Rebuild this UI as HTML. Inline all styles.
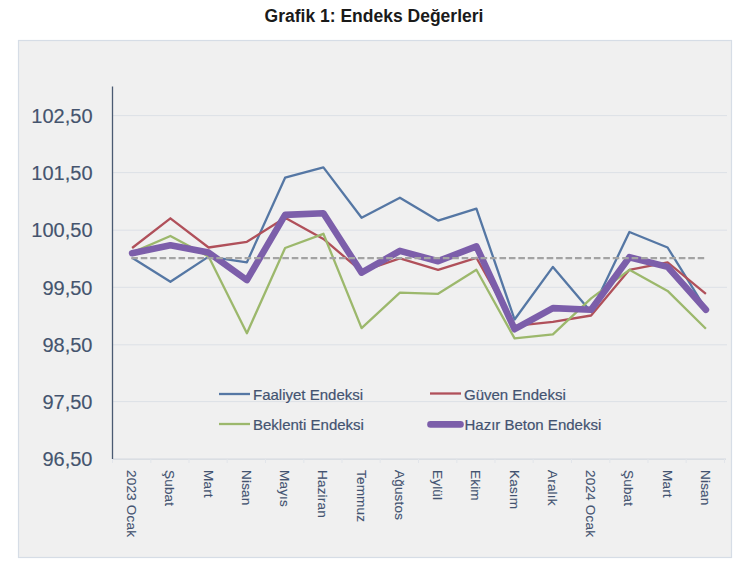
<!DOCTYPE html>
<html><head><meta charset="utf-8"><style>
html,body{margin:0;padding:0;background:#fff;width:750px;height:575px;overflow:hidden;}
svg{display:block;}
.t{font-family:"Liberation Sans",sans-serif;font-weight:bold;font-size:17.5px;fill:#1a1a1a;}
.yl{font-family:"Liberation Sans",sans-serif;font-size:20px;fill:#44546e;stroke:#44546e;stroke-width:0.15px;}
.xl{font-family:"Liberation Sans",sans-serif;font-size:13.5px;letter-spacing:0.2px;fill:#435370;stroke:#435370;stroke-width:0.12px;}
.lg{font-family:"Liberation Sans",sans-serif;font-size:15px;fill:#435370;stroke:#435370;stroke-width:0.2px;}
</style></head><body>
<svg width="750" height="575" viewBox="0 0 750 575">
<rect x="0" y="0" width="750" height="575" fill="#ffffff"/>
<text x="374" y="22" text-anchor="middle" class="t">Grafik 1: Endeks Değerleri</text>
<rect x="18.5" y="40.5" width="713" height="517" fill="#f0f0f0" stroke="#d6dde6" stroke-width="1.2"/>
<line x1="112.5" y1="401.6" x2="727" y2="401.6" stroke="#dce0e6" stroke-width="1"/>
<line x1="112.5" y1="344.8" x2="727" y2="344.8" stroke="#dce0e6" stroke-width="1"/>
<line x1="112.5" y1="287.3" x2="727" y2="287.3" stroke="#dce0e6" stroke-width="1"/>
<line x1="112.5" y1="230.2" x2="727" y2="230.2" stroke="#dce0e6" stroke-width="1"/>
<line x1="112.5" y1="172.6" x2="727" y2="172.6" stroke="#dce0e6" stroke-width="1"/>
<line x1="112.5" y1="115.6" x2="727" y2="115.6" stroke="#dce0e6" stroke-width="1"/>
<text x="92.5" y="466.0" text-anchor="end" class="yl">96,50</text>
<text x="92.5" y="408.8" text-anchor="end" class="yl">97,50</text>
<text x="92.5" y="351.7" text-anchor="end" class="yl">98,50</text>
<text x="92.5" y="294.5" text-anchor="end" class="yl">99,50</text>
<text x="92.5" y="237.3" text-anchor="end" class="yl">100,50</text>
<text x="92.5" y="180.1" text-anchor="end" class="yl">101,50</text>
<text x="92.5" y="123.0" text-anchor="end" class="yl">102,50</text>
<line x1="112.5" y1="459.2" x2="726" y2="459.2" stroke="#d3d8df" stroke-width="1.2"/>
<line x1="112.5" y1="459" x2="112.5" y2="463" stroke="#e2e5ea" stroke-width="1"/>
<line x1="150.8" y1="459" x2="150.8" y2="463" stroke="#e2e5ea" stroke-width="1"/>
<line x1="189.0" y1="459" x2="189.0" y2="463" stroke="#e2e5ea" stroke-width="1"/>
<line x1="227.2" y1="459" x2="227.2" y2="463" stroke="#e2e5ea" stroke-width="1"/>
<line x1="265.5" y1="459" x2="265.5" y2="463" stroke="#e2e5ea" stroke-width="1"/>
<line x1="303.8" y1="459" x2="303.8" y2="463" stroke="#e2e5ea" stroke-width="1"/>
<line x1="342.0" y1="459" x2="342.0" y2="463" stroke="#e2e5ea" stroke-width="1"/>
<line x1="380.2" y1="459" x2="380.2" y2="463" stroke="#e2e5ea" stroke-width="1"/>
<line x1="418.5" y1="459" x2="418.5" y2="463" stroke="#e2e5ea" stroke-width="1"/>
<line x1="456.8" y1="459" x2="456.8" y2="463" stroke="#e2e5ea" stroke-width="1"/>
<line x1="495.0" y1="459" x2="495.0" y2="463" stroke="#e2e5ea" stroke-width="1"/>
<line x1="533.2" y1="459" x2="533.2" y2="463" stroke="#e2e5ea" stroke-width="1"/>
<line x1="571.5" y1="459" x2="571.5" y2="463" stroke="#e2e5ea" stroke-width="1"/>
<line x1="609.8" y1="459" x2="609.8" y2="463" stroke="#e2e5ea" stroke-width="1"/>
<line x1="648.0" y1="459" x2="648.0" y2="463" stroke="#e2e5ea" stroke-width="1"/>
<line x1="686.2" y1="459" x2="686.2" y2="463" stroke="#e2e5ea" stroke-width="1"/>
<line x1="724.5" y1="459" x2="724.5" y2="463" stroke="#e2e5ea" stroke-width="1"/>
<line x1="112.5" y1="86.5" x2="112.5" y2="459" stroke="#4a5a72" stroke-width="1.3"/>
<text transform="translate(127.1,470) rotate(90)" class="xl">2023 Ocak</text>
<text transform="translate(165.4,470) rotate(90)" class="xl">Şubat</text>
<text transform="translate(203.6,470) rotate(90)" class="xl">Mart</text>
<text transform="translate(241.9,470) rotate(90)" class="xl">Nisan</text>
<text transform="translate(280.1,470) rotate(90)" class="xl">Mayıs</text>
<text transform="translate(318.4,470) rotate(90)" class="xl">Haziran</text>
<text transform="translate(356.6,470) rotate(90)" class="xl">Temmuz</text>
<text transform="translate(394.9,470) rotate(90)" class="xl">Ağustos</text>
<text transform="translate(433.1,470) rotate(90)" class="xl">Eylül</text>
<text transform="translate(471.4,470) rotate(90)" class="xl">Ekim</text>
<text transform="translate(509.6,470) rotate(90)" class="xl">Kasım</text>
<text transform="translate(547.9,470) rotate(90)" class="xl">Aralık</text>
<text transform="translate(586.1,470) rotate(90)" class="xl">2024 Ocak</text>
<text transform="translate(624.4,470) rotate(90)" class="xl">Şubat</text>
<text transform="translate(662.6,470) rotate(90)" class="xl">Mart</text>
<text transform="translate(700.9,470) rotate(90)" class="xl">Nisan</text>
<polyline points="132.1,257.8 170.4,281.8 208.6,256.6 246.9,262.3 285.1,177.7 323.4,167.4 361.6,217.7 399.9,197.7 438.1,220.6 476.4,208.6 514.6,319.5 552.9,266.9 591.1,312.1 629.4,232.0 667.6,247.5 705.9,309.2" fill="none" stroke="#5577a4" stroke-width="2.3" stroke-linejoin="round"/>
<polyline points="132.1,248.0 170.4,218.3 208.6,247.5 246.9,241.8 285.1,217.7 323.4,238.9 361.6,271.5 399.9,258.3 438.1,269.8 476.4,257.8 514.6,325.8 552.9,321.8 591.1,315.5 629.4,269.8 667.6,262.3 705.9,293.8" fill="none" stroke="#b0505a" stroke-width="2.3" stroke-linejoin="round"/>
<polyline points="132.1,252.6 170.4,236.0 208.6,256.6 246.9,333.2 285.1,248.0 323.4,233.8 361.6,328.1 399.9,292.6 438.1,293.8 476.4,269.8 514.6,338.4 552.9,334.4 591.1,298.4 629.4,269.8 667.6,290.9 705.9,328.7" fill="none" stroke="#9cb86c" stroke-width="2.3" stroke-linejoin="round"/>
<polyline points="132.1,253.2 170.4,245.2 208.6,252.6 246.9,280.1 285.1,214.9 323.4,213.2 361.6,272.6 399.9,250.9 438.1,261.2 476.4,246.3 514.6,329.2 552.9,308.1 591.1,309.8 629.4,257.2 667.6,266.9 705.9,309.8" fill="none" stroke="#7c5eaa" stroke-width="6.6" stroke-linejoin="round" stroke-linecap="round"/>
<line x1="131.3" y1="258.2" x2="704.2" y2="258.2" stroke="#a3a3a3" stroke-width="2.2" stroke-dasharray="6.6,2.84"/>
<line x1="219" y1="394" x2="250" y2="394" stroke="#5577a4" stroke-width="2.3"/>
<text x="253" y="399.6" class="lg">Faaliyet Endeksi</text>
<line x1="219" y1="424" x2="250" y2="424" stroke="#9cb86c" stroke-width="2.3"/>
<text x="253" y="429.6" class="lg">Beklenti Endeksi</text>
<line x1="430" y1="393.5" x2="461" y2="393.5" stroke="#b0505a" stroke-width="2.3"/>
<text x="464" y="399.6" class="lg">Güven Endeksi</text>
<line x1="430.5" y1="424.4" x2="460.5" y2="424.4" stroke="#7c5eaa" stroke-width="6.6" stroke-linecap="round"/>
<text x="464.5" y="429.6" class="lg">Hazır Beton Endeksi</text>
</svg>
</body></html>
